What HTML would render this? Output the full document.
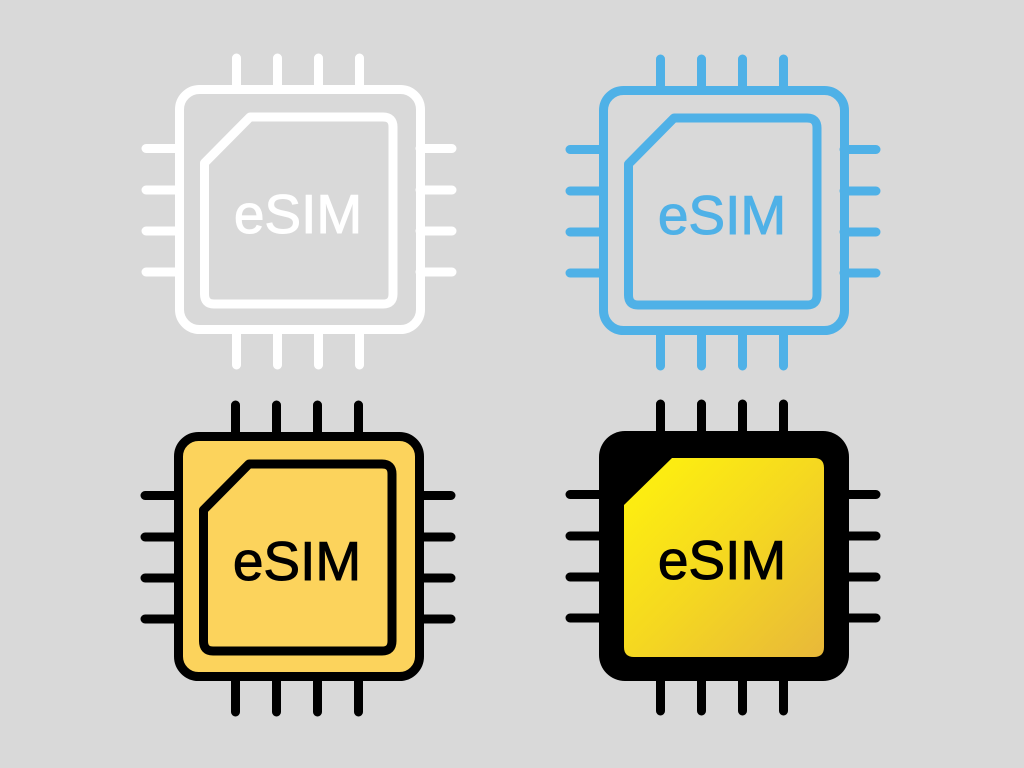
<!DOCTYPE html>
<html><head><meta charset="utf-8"><style>
html,body{margin:0;padding:0;background:#d9d9d9;}
svg{display:block;}
text{font-family:"Liberation Sans",sans-serif;font-size:55px;stroke-width:1;}
</style></head><body>
<svg width="1024" height="768" viewBox="0 0 1024 768" xmlns="http://www.w3.org/2000/svg">
<defs>
<linearGradient id="g" x1="0" y1="0" x2="1" y2="1">
<stop offset="0" stop-color="#fff40c"/><stop offset="0.5" stop-color="#f5d820"/><stop offset="1" stop-color="#e8b83a"/>
</linearGradient>
<g id="pins">
<path d="M236.5 58V88 M277.5 58V88 M318.5 58V88 M359.5 58V88 M236.5 330V365 M277.5 330V365 M318.5 330V365 M359.5 330V365 M146 148.5H178 M146 190H178 M146 231H178 M146 272H178 M420 148.5H452 M420 190H452 M420 231H452 M420 272H452" stroke-width="9" stroke-linecap="round" fill="none"/>
</g>
</defs>
<g stroke="#ffffff" fill="none">
<use href="#pins"/>
<rect x="179.5" y="89.5" width="241" height="240" rx="20" stroke-width="9"/>
<path d="M250 117 H383 Q393 117 393 127 V294 Q393 304 383 304 H214 Q204.5 304 204.5 294 V163 Z" stroke-width="9" stroke-linejoin="round"/>
</g>
<text x="298" y="233" text-anchor="middle" fill="#ffffff" stroke="#ffffff">eSIM</text>
<g transform="translate(424,1)">
<g stroke="#4fb1e7" fill="none">
<use href="#pins"/>
<rect x="179.5" y="89.5" width="241" height="240" rx="20" stroke-width="9"/>
<path d="M250 117 H383 Q393 117 393 127 V294 Q393 304 383 304 H214 Q204.5 304 204.5 294 V163 Z" stroke-width="9" stroke-linejoin="round"/>
</g>
<text x="298" y="233" text-anchor="middle" fill="#4fb1e7" stroke="#4fb1e7">eSIM</text>
</g>
<g transform="translate(-1,347)">
<g stroke="#000000">
<use href="#pins"/>
<rect x="179.5" y="89.5" width="241" height="240" rx="20" stroke-width="9" fill="#fcd35c"/>
<path d="M250 117 H383 Q393 117 393 127 V294 Q393 304 383 304 H214 Q204.5 304 204.5 294 V163 Z" stroke-width="9" stroke-linejoin="round" fill="none"/>
</g>
<text x="298" y="233" text-anchor="middle" fill="#000000" stroke="#000000">eSIM</text>
</g>
<g transform="translate(424,346)">
<g stroke="#000000"><use href="#pins"/></g>
<rect x="175" y="85" width="250" height="250" rx="26" fill="#000000"/>
<path d="M248 112 H390 Q400 112 400 122 V301 Q400 311 390 311 H210 Q200 311 200 301 V159 Z" fill="url(#g)"/>
<text x="298" y="233" text-anchor="middle" fill="#000000" stroke="#000000">eSIM</text>
</g>
</svg>
</body></html>
